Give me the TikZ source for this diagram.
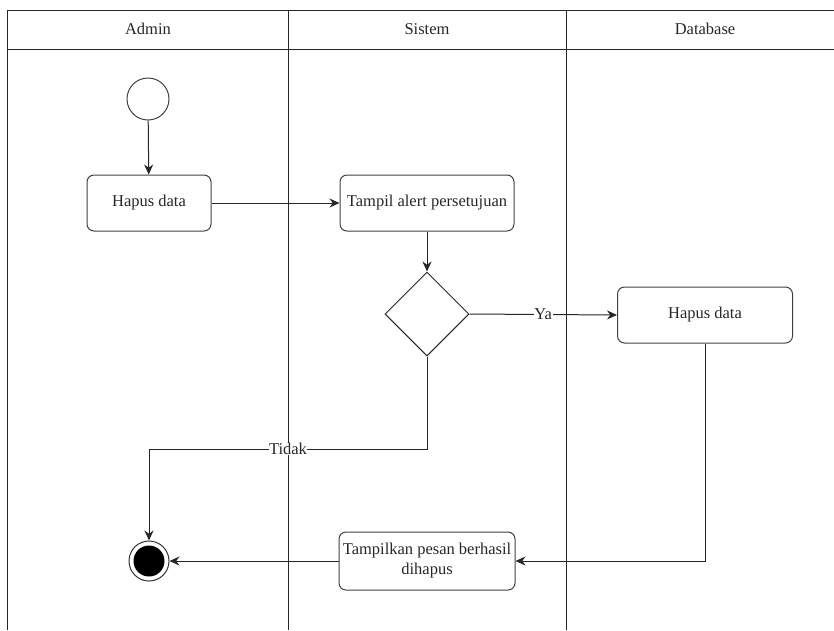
\documentclass[tikz,border=0pt]{standalone}
\usepackage{fontspec}
\setmainfont{Liberation Serif}
\usetikzlibrary{shapes.geometric,arrows.meta}
\begin{document}
\begin{tikzpicture}[x=1pt,y=-1pt,
  every node/.style={font=\fontsize{16.5}{20}\selectfont, text=black!85},
  lane/.style={draw=black!85, line width=1pt},
  act/.style={draw=black!75, line width=1pt, rounded corners=7pt, minimum width=#1, minimum height=56pt, align=center, inner sep=0pt},
  act/.default=124pt,
  dec/.style={draw=black!85, line width=1pt, diamond, minimum width=84pt, minimum height=84pt, inner sep=0pt, aspect=1},
  startnode/.style={draw=black!75, line width=1pt, circle, minimum size=42pt, inner sep=0pt},
  flow/.style={draw=black!85, line width=1pt, -{Stealth[length=10pt,width=9pt]}},
  lbl/.style={fill=white, inner sep=0.5pt}
]
\useasboundingbox (0,0) rectangle (834,630);
% swimlanes
\draw[lane] (7,630) -- (7,10) -- (840,10);
\draw[lane, line width=1.4pt] (7,49.5) -- (840,49.5);
\draw[lane] (288,10) -- (288,630);
\draw[lane] (566,10) -- (566,630);
\node (hA) at (148,29) {Admin};
\node (hS) at (427,29) {Sistem};
\node (hD) at (705,29) {Database};

\node[startnode] (start) at (148,99) {};
\node[act] (hapus1) at (149,203) {Hapus data};
\node[act=174pt] (alert) at (427,203) {Tampil alert persetujuan};
\node[dec] (dec) at (427,314) {};
\node[act=175pt] (hapus2) at (705,315) {Hapus data};
\node[act=176pt, minimum height=58pt] (pesan) at (427,561) {Tampilkan pesan berhasil\\dihapus};
\node[circle, draw=black!80, line width=1pt, minimum size=40pt, inner sep=0pt] (end) at (149,561) {};
\node[circle, fill=black, minimum size=31pt, inner sep=0pt] (endin) at (149,561) {};

\draw[flow] (start) -- (hapus1);
\draw[flow] (hapus1) -- (alert);
\draw[flow] (alert) -- (dec);
\draw[flow] (dec.east) -- node[lbl, pos=0.5] {Ya} (hapus2.west);
\coordinate (t1) at (427,449);
\coordinate (t2) at (149,449);
\draw[flow] (dec.south) -- (t1) -- node[lbl, pos=0.5] {Tidak} (t2) -- (end.north);
\coordinate (d1) at (705,561);
\draw[flow] (hapus2.south) -- (d1) -- (pesan.east);
\draw[flow] (pesan.west) -- (end.east);
\end{tikzpicture}
\end{document}
